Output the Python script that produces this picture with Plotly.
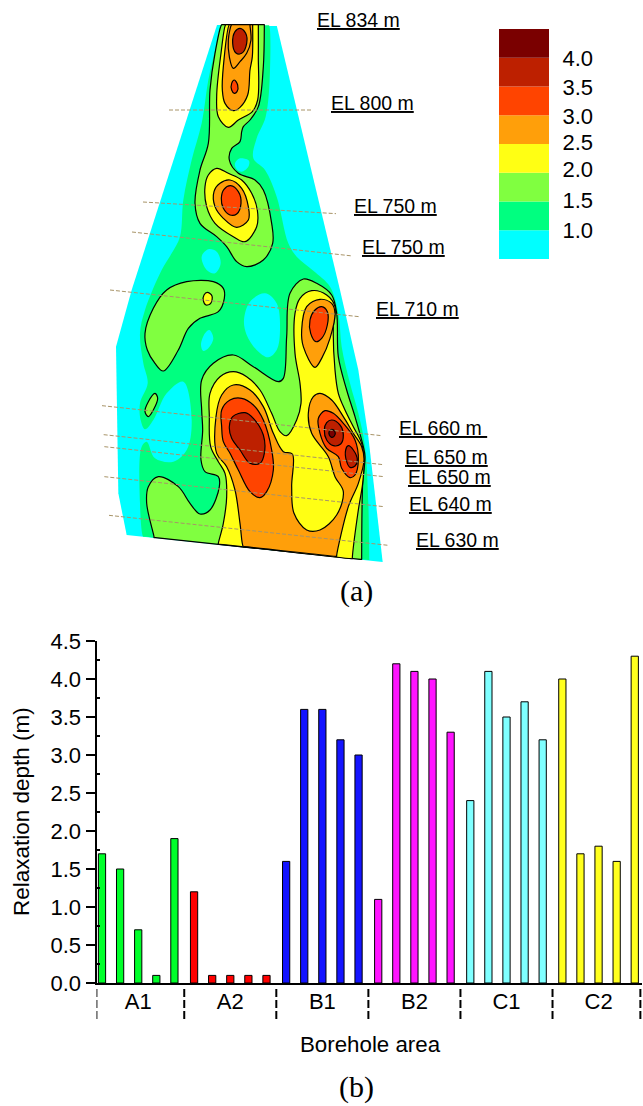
import plotly.graph_objects as go

W, H = 643, 1106


def px(x):
    return x / W


def py(y):
    return 1 - y / H


# ---------- (b) bar chart data ----------
groups = ["A1", "A2", "B1", "B2", "C1", "C2"]
a1 = [1.7, 1.5, 0.7, 0.1, 1.9]
a2 = [1.2, 0.1, 0.1, 0.1, 0.1]
b1 = [1.6, 3.6, 3.6, 3.2, 3.0]
b2 = [1.1, 4.2, 4.1, 4.0, 3.3]
c1 = [2.4, 4.1, 3.5, 3.7, 3.2]
c2 = [4.0, 1.7, 1.8, 1.6, 4.3]
bar_colors = ["#00ff2a", "#ff0000", "#1414ff", "#ff14ff", "#7fffff", "#ffff1e"]

# ---------- legend ----------
levels = [0.5, 1.0, 1.5, 2.0, 2.5, 3.0, 3.5, 4.0]
level_colors = ["#00ffff", "#00ff80", "#80ff40", "#ffff14", "#ff9f0a", "#ff4400", "#bd2000", "#7a0000"]
CY, GR, LG, YE, OR, RE, DR, MA = level_colors
level_labels = ["1.0", "1.5", "2.0", "2.5", "3.0", "3.5", "4.0"]
level_label_at = [1.004, 1.526, 2.065, 2.53, 2.99, 3.48, 3.996]

# ---------- (a) contour regions (map units) ----------
outer = [(651,75),(830,76),(1020,870),(1075,1110),(1105,1310),(1148,1686),(380,1605),(355,1480),(348,1040),(395,870)]
green = [(662,74),(665,74),(804,76),(807,76),(810,210),(797,350),(770,415),(760,475),(795,510),(830,590),(865,730),(890,770),
         (940,812),(990,860),(1015,940),(1025,1040),(1050,1150),(1075,1240),(1095,1340),(1105,1510),(1108,1677),(1108,1680),
         (1104,1680),(434,1610),(430,1610),(420,1510),(425,1340),(440,1325),(465,1375),(520,1385),(560,1350),(575,1260),(550,1145),
         (500,1180),(460,1260),(435,1288),(422,1260),(420,1210),(443,1150),(430,1090),(420,1000),(435,930),(485,810),(515,760),
         (540,710),(550,600),(575,480),(605,370),(625,240),(645,150)]
hole1 = [(705,490),(720,475),(747,482),(745,500),(725,515),(710,508)]
hole2 = [(605,770),(625,748),(650,755),(662,790),(645,820),(620,810)]
hole3 = [(732,960),(750,905),(795,880),(830,910),(840,990),(830,1050),(805,1072),(770,1050),(740,1005)]
hole4 = [(603,1035),(615,1000),(628,990),(640,1015),(625,1045),(610,1053)]

light_top = [(665,74),(645,160),(630,270),(625,430),(600,510),(585,610),(600,670),(650,710),(680,740),(710,785),(740,800),(790,780),
             (818,730),(815,670),(790,570),(765,540),(715,520),(688,480),(695,445),(720,425),(725,395),(730,380),(750,360),(775,320),
             (790,200),(793,77),(793,74),(790,74),(668,74)]
light_lobe = [(435,1000),(460,925),(500,870),(560,845),(640,845),(670,865),(673,895),(655,935),(600,955),(565,985),(535,1050),(490,1113),(465,1090),(442,1050)]
light_small = [(465,1180),(473,1195),(460,1230),(445,1250),(435,1235),(445,1205)]
light_main = [(910,837),(870,880),(860,1010),(850,1135),(835,1145),(760,1100),(700,1065),(640,1090),(605,1140),(605,1230),(608,1290),
              (603,1380),(615,1415),(655,1430),(658,1460),(630,1530),(600,1542),(570,1510),(535,1460),(475,1430),(445,1460),(440,1510),
              (462,1610),(462,1613),(466,1613),(1081,1678),(1085,1678),(1085,1675),(1088,1450),(1095,1370),(1090,1340),(1065,1250),(1040,1170),
              (1015,1070),(1010,940),(995,885),(950,850)]

yellow_top = [(677,74),(663,160),(650,290),(655,350),(685,382),(715,360),(757,335),(773,300),(775,170),(775,77),(775,74),(772,74),(680,74)]
yellow_mid = [(650,505),(685,520),(725,540),(755,580),(772,630),(770,680),(735,725),(700,710),(645,670),(620,620),(615,560),(625,525)]
yellow_dot = [(622,877),(636,888),(632,910),(618,915),(610,902),(612,885)]
yellow_main = [(935,872),(900,895),(885,940),(885,1060),(900,1150),(903,1210),(890,1260),(860,1307),(840,1295),(815,1240),(780,1170),
               (740,1130),(700,1115),(660,1130),(630,1180),(628,1250),(632,1340),(655,1385),(675,1420),(680,1490),(670,1570),(655,1630),(655,1633),
               (659,1633),(1053,1676),(1057,1676),(1057,1673),(1075,1530),(1088,1450),(1092,1380),(1085,1330),(1060,1280),(1035,1230),(1015,1180),
               (1005,1110),(1000,980),(1005,920),(980,885)]

orange_top = [(688,74),(670,200),(667,270),(675,310),(700,332),(720,322),(743,285),(750,210),(757,170),(758,77),(758,74),(755,74),(691,74)]
orange_ring = [(695,74),(685,120),(688,170),(700,205),(720,185),(740,160),(753,120),(750,77),(750,74),(747,74),(698,74)]
orange_mid = [(690,540),(725,565),(745,620),(745,660),(710,682),(670,655),(645,620),(642,575),(660,550)]
orange_lobe = [(960,898),(920,920),(905,990),(910,1040),(945,1102),(965,1075),(990,1015),(1005,940),(995,910)]
orange_main = [(730,1640),(720,1570),(705,1470),(680,1400),(650,1360),(648,1250),(665,1185),(700,1155),(750,1170),(790,1220),(820,1300),
               (850,1355),(877,1362),(875,1460),(882,1540),(920,1590),(960,1590),(1010,1545),(1030,1475),(1005,1430),(985,1370),(935,1300),
               (925,1240),(940,1190),(960,1180),(995,1200),(1030,1250),(1060,1300),(1085,1340),(1092,1380),(1075,1450),(1045,1520),(1010,1666),(1010,1669),
               (1006,1669),(734,1640)]

red_top = [(703,240),(713,255),(711,275),(703,280),(695,270),(695,250)]
red_mid = [(692,557),(715,575),(723,610),(710,642),(690,645),(670,625),(664,595),(672,568)]
red_lobe = [(965,920),(982,935),(982,975),(965,1015),(948,1025),(932,1000),(930,960),(945,930)]
red_left = [(665,1280),(665,1230),(690,1200),(725,1195),(760,1215),(790,1260),(815,1350),(820,1410),(800,1475),(780,1493),(750,1475),(715,1410),(690,1360),(670,1325)]
red_right = [(975,1232),(1000,1240),(1030,1270),(1065,1320),(1075,1380),(1065,1425),(1050,1433),(1025,1405),(1015,1370),(980,1345),(960,1300),(955,1255)]

dark_top = [(720,85),(737,100),(740,130),(725,160),(707,158),(698,130),(705,95)]
dark_left = [(688,1280),(698,1250),(735,1238),(760,1255),(790,1305),(793,1360),(780,1390),(750,1390),(720,1350),(695,1315)]
dark_right = [(995,1260),(1020,1275),(1030,1305),(1022,1332),(1000,1337),(980,1320),(973,1290),(980,1268)]
dark_right2 = [(1045,1337),(1060,1350),(1072,1380),(1065,1398),(1050,1402),(1040,1385),(1037,1350)]
maroon = [(996,1288),(1005,1295),(1003,1308),(995,1312),(988,1305),(988,1293)]

regions = [
    (green, GR, False), (hole1, CY, False), (hole2, CY, False), (hole3, CY, False), (hole4, CY, False),
    (light_top, LG, True), (light_lobe, LG, True), (light_small, LG, True), (light_main, LG, True),
    (yellow_top, YE, True), (yellow_mid, YE, True), (yellow_dot, YE, True), (yellow_main, YE, True),
    (orange_top, OR, True), (orange_ring, OR, True), (orange_mid, OR, True), (orange_lobe, OR, True), (orange_main, OR, True),
    (red_top, RE, True), (red_mid, RE, True), (red_lobe, RE, True), (red_left, RE, True), (red_right, RE, True),
    (dark_top, DR, True), (dark_left, DR, True), (dark_right, DR, True), (dark_right2, DR, True), (maroon, MA, True),
]

# elevation sections: start and end of each dashed line, and labels
sec_x0 = [507, 429, 396, 330, 306, 311, 313, 313, 327]
sec_y0 = [330, 606, 696, 870, 1217, 1304, 1340, 1430, 1546]
sec_x1 = [939, 1008, 1058, 1077, 1145, 1150, 1152, 1152, 1165]
sec_y1 = [330, 641, 768, 950, 1307, 1394, 1430, 1520, 1636]
el_labels = ["EL 834 m", "EL 800 m", "EL 750 m", "EL 750 m", "EL 710 m", "EL 660 m&nbsp;", "EL 650 m", "EL 650 m", "EL 640 m", "EL 630 m"]
el_x = [945, 987, 1056, 1080, 1122, 1191, 1209, 1218, 1221, 1242]
el_y = [60, 309, 618, 741, 927, 1284, 1371, 1431, 1512, 1620]

FONT = "Liberation Sans, Arial, sans-serif"
SERIF = "Liberation Serif, Times New Roman, serif"

fig = go.Figure()

# --- map ---
ox, oy = zip(*outer)
fig.add_trace(go.Scatter(x=list(ox) + [ox[0]], y=list(oy) + [oy[0]], mode="lines", fill="toself", fillcolor=CY,
                         line=dict(width=0, color=CY), xaxis="x2", yaxis="y2", hoverinfo="skip", showlegend=False))
for pts, color, outlined in regions:
    xs, ys = zip(*pts)
    fig.add_trace(go.Scatter(
        x=list(xs) + [xs[0]], y=list(ys) + [ys[0]], mode="lines", fill="toself", fillcolor=color,
        line=dict(width=1.2 if outlined else 0, color="#000000" if outlined else color, shape="spline", smoothing=1.0, simplify=False),
        xaxis="x2", yaxis="y2", hoverinfo="skip", showlegend=False))
for x0, y0, x1, y1 in zip(sec_x0, sec_y0, sec_x1, sec_y1):
    fig.add_trace(go.Scatter(x=[x0, x1], y=[y0, y1], mode="lines", line=dict(color="#a89468", width=1, dash="4px,2px"),
                             xaxis="x2", yaxis="y2", hoverinfo="skip", showlegend=False))

# --- legend stack ---
fig.add_trace(go.Bar(x=[0.5] * len(levels), y=[0.5] * len(levels), base=levels, width=1.0,
                     marker=dict(color=level_colors, line=dict(width=0)), xaxis="x3", yaxis="y3",
                     hoverinfo="skip", showlegend=False))

# --- bars ---
UNIT_GROUP = 5.086
series = [a1, a2, b1, b2, c1, c2]
for g, (vals, col) in enumerate(zip(series, bar_colors)):
    fig.add_trace(go.Bar(x=[g * UNIT_GROUP + j for j in range(len(vals))], y=vals, width=0.4,
                         marker=dict(color=col, line=dict(color="#000000", width=1)),
                         xaxis="x", yaxis="y", showlegend=False, name=groups[g]))

sep = [-0.31] + [g * UNIT_GROUP + 4.543 for g in range(5)] + [29.74]
shapes = [dict(type="line", xref="x", yref="paper", x0=s, x1=s, y0=py(989), y1=py(1022),
               line=dict(color="#000000", width=2, dash="8px,3px")) for s in sep]

anns = [dict(xref="x2", yref="y2", x=x, y=y, text=f"<u>{t}</u>", showarrow=False, xanchor="left", yanchor="middle",
             font=dict(family=FONT, size=19.5, color="#000000")) for t, x, y in zip(el_labels, el_x, el_y)]
anns += [
    dict(xref="paper", yref="paper", x=px(356), y=py(591), text="(a)", xanchor="center", yanchor="middle", showarrow=False, font=dict(family=SERIF, size=30, color="#000000")),
    dict(xref="paper", yref="paper", x=px(356), y=py(1087), text="(b)", xanchor="center", yanchor="middle", showarrow=False, font=dict(family=SERIF, size=30, color="#000000")),
    dict(xref="paper", yref="paper", x=px(371), y=py(1044), text="Borehole area", xanchor="center", yanchor="middle", showarrow=False, font=dict(family=FONT, size=22.3, color="#000000")),
    dict(xref="paper", yref="paper", x=px(21), y=py(812), text="Relaxation depth (m)", xanchor="center", yanchor="middle", textangle=-90, showarrow=False, font=dict(family=FONT, size=22.5, color="#000000")),
]

fig.update_layout(
    template="none",
    width=W, height=H, margin=dict(l=0, r=0, t=0, b=0, pad=0), paper_bgcolor="white", plot_bgcolor="rgba(0,0,0,0)",
    barmode="overlay", showlegend=False, shapes=shapes, annotations=anns,
    font=dict(family=FONT, color="#000000"),
    xaxis=dict(domain=[px(96.5), px(642)], range=[-0.304, 29.83], automargin=False, showgrid=False, zeroline=False, showline=True, linecolor="#000000", linewidth=2,
               tickmode="array", tickvals=[g * UNIT_GROUP + 2 for g in range(6)], ticktext=groups, ticks="", ticklabelstandoff=-2,
               tickfont=dict(family=FONT, size=22)),
    yaxis=dict(domain=[py(983), py(641)], range=[0, 4.5], automargin=False, showgrid=False, zeroline=False, showline=True, linecolor="#000000", linewidth=2,
               tickmode="array", tickvals=[0, .5, 1, 1.5, 2, 2.5, 3, 3.5, 4, 4.5], ticktext=["0.0", "0.5", "1.0", "1.5", "2.0", "2.5", "3.0", "3.5", "4.0", "4.5"],
               ticks="outside", ticklen=9, tickwidth=2, tickcolor="#000000", tickfont=dict(family=FONT, size=22),
               minor=dict(tickmode="array", tickvals=[.25, .75, 1.25, 1.75, 2.25, 2.75, 3.25, 3.75, 4.25], ticks="inside", ticklen=3, tickwidth=1.5, tickcolor="#000000")),
    xaxis2=dict(domain=[0, 1], range=[0, 3 * W], visible=False, anchor="y2", automargin=False),
    yaxis2=dict(domain=[py(600), 1], range=[1800, 0], visible=False, anchor="x2", automargin=False),
    xaxis3=dict(domain=[px(499), px(549)], range=[0, 1], visible=False, anchor="y3", automargin=False),
    yaxis3=dict(domain=[py(259), py(29)], range=[0.5, 4.5], anchor="x3", side="right", automargin=False, showgrid=False, zeroline=False, showline=False,
                tickmode="array", tickvals=level_label_at, ticktext=level_labels, ticks="outside", ticklen=8, tickcolor="rgba(0,0,0,0)",
                tickfont=dict(family=FONT, size=22)),
)

fig.write_html("out.html", config=dict(displayModeBar=False),
               post_script="document.body.style.margin='0';document.documentElement.style.overflow='hidden';")
